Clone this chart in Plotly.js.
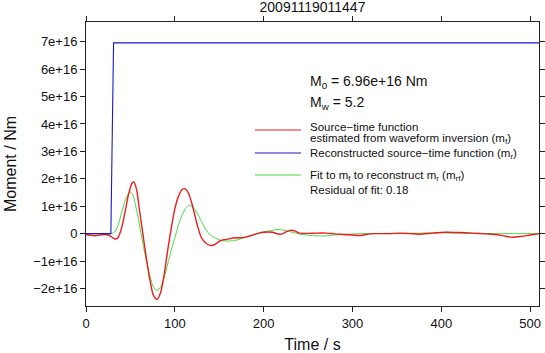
<!DOCTYPE html>
<html>
<head>
<meta charset="utf-8">
<script src="https://cdn.plot.ly/plotly-3.0.1.min.js"></script>
<style>
html,body{margin:0;padding:0;background:#fff;}
#chart{width:545px;height:353px;}
</style>
</head>
<body>
<div id="chart"></div>
<script>
// ---- data (moment in units of 1e16 Nm, time in s) ----
var chartTitle = '20091119011447';
var M0 = 6.96e16;
var Mw = 5.2;
var residual = 0.18;

var redT = [0,5,10,15,20,25,30,33,36,40,44,48,52,54,57,60,64,68,72,76,80,84,88,92,96,100,104,108,111,115,120,125,130,135,140,145,150,155,160,165,170,175,180,185,190,195,200,205,210,215,220,225,230,235,240,250,260,270,280,290,300,308,315,325,340,355,365,375,390,405,420,435,450,460,470,480,490,500,510];
var redV = [-0.03,-0.06,-0.08,-0.06,-0.03,-0.05,-0.15,-0.2,-0.15,0.2,0.8,1.45,1.85,1.88,1.6,0.9,0.0,-0.9,-1.7,-2.25,-2.4,-2.15,-1.5,-0.6,0.2,0.9,1.35,1.6,1.64,1.5,1.0,0.35,-0.15,-0.35,-0.43,-0.4,-0.28,-0.22,-0.2,-0.16,-0.15,-0.15,-0.13,-0.08,-0.03,0.02,0.05,0.06,0.05,0.0,-0.02,0.06,0.12,0.1,0.02,0.01,0.02,0.02,-0.01,-0.03,-0.05,-0.07,-0.03,0.0,0.0,0.02,0.0,-0.02,0.02,0.05,0.04,0.02,-0.01,-0.03,-0.08,-0.13,-0.1,-0.05,0.0];

var blueT = [0,28,31,510];
var blueV = [0,0,6.96,6.96];

var greenT = [0,28,32,36,40,44,48,50,53,56,60,64,68,72,76,80,84,88,92,96,100,104,108,112,116,120,125,130,135,140,145,150,155,160,165,170,175,180,190,200,210,215,220,230,240,250,260,270,280,295,310,350,400,430,460,510];
var greenV = [0,0,0.05,0.3,0.75,1.2,1.48,1.52,1.4,1.0,0.35,-0.35,-1.0,-1.55,-1.95,-2.07,-1.95,-1.6,-1.1,-0.6,-0.15,0.3,0.65,0.92,1.03,0.98,0.75,0.45,0.15,-0.05,-0.15,-0.23,-0.26,-0.27,-0.26,-0.23,-0.18,-0.12,-0.02,0.06,0.12,0.15,0.14,0.07,-0.01,-0.06,-0.08,-0.08,-0.05,-0.02,0.0,0.0,0.03,0.01,0.0,0.0];

var xTicks = [0,100,200,300,400,500];
var yTickVals = [-2,-1,0,1,2,3,4,5,6,7];
var yTickText = ['\u22122e+16','\u22121e+16','0','1e+16','2e+16','3e+16','4e+16','5e+16','6e+16','7e+16'];

var scale = 1e16;
function sc(a){ return a.map(function(v){ return v*scale; }); }

// ---- layout geometry ----
var W = 545, H = 353;
var L = 86, R = 6, T = 22, B = 47;
var pw = W - L - R, ph = H - T - B;
function px(x){ return (x - L) / pw; }
function py(y){ return (H - B - y) / ph; }

var FONT = 'Liberation Sans, Arial, Helvetica, sans-serif';
var RED = '#ee1c1c', BLUE = '#1a1acc', GREEN = '#44dd44';

var traces = [
  {x: greenT, y: sc(greenV), type: 'scatter', mode: 'lines', line: {color: GREEN, width: 1, shape: 'spline', smoothing: 0.8}, hoverinfo: 'skip', showlegend: false},
  {x: redT, y: sc(redV), type: 'scatter', mode: 'lines', line: {color: RED, width: 1.4, shape: 'spline', smoothing: 0.8}, hoverinfo: 'skip', showlegend: false},
  {x: blueT, y: sc(blueV), type: 'scatter', mode: 'lines', line: {color: BLUE, width: 1.1}, hoverinfo: 'skip', showlegend: false}
];

var textColor = '#111';
function ann(text, x, y, size){
  return {text: text, xref: 'paper', yref: 'paper', x: px(x), y: py(y), xanchor: 'left', yanchor: 'middle', showarrow: false, borderpad: 0, font: {family: FONT, size: size, color: textColor}};
}
function seg(x0, x1, y, color){
  return {type: 'line', xref: 'paper', yref: 'paper', x0: px(x0), x1: px(x1), y0: py(y), y1: py(y), line: {color: color, width: 1.2}};
}

var layout = {
  width: W, height: H,
  margin: {l: L, r: R, t: T, b: B},
  paper_bgcolor: '#fff', plot_bgcolor: '#fff',
  font: {family: FONT, color: textColor},
  title: {text: chartTitle, font: {family: FONT, size: 14, color: textColor}, xref: 'paper', x: 0.5, xanchor: 'center', yref: 'container', y: 1 - 7.5/H, yanchor: 'middle'},
  xaxis: {
    range: [0, 510], tickvals: xTicks, ticks: 'outside', ticklen: 5, tickcolor: '#222', tickwidth: 1,
    showline: true, linecolor: '#222', linewidth: 1, mirror: 'ticks', showgrid: false, zeroline: false,
    tickfont: {family: FONT, size: 13, color: textColor},
    title: {text: 'Time / s', font: {family: FONT, size: 16, color: textColor}, standoff: 10}
  },
  yaxis: {
    range: [-2.64e16, 7.72e16], tickvals: sc(yTickVals), ticktext: yTickText, ticks: 'outside', ticklen: 5, tickcolor: '#222', tickwidth: 1,
    showline: true, linecolor: '#222', linewidth: 1, mirror: 'ticks', showgrid: false, zeroline: false,
    tickfont: {family: FONT, size: 13, color: textColor},
    title: {text: 'Moment / Nm', font: {family: FONT, size: 16, color: textColor}, standoff: 12}
  },
  annotations: [
    ann('M<sub>0</sub> = ' + '6.96e+16' + ' Nm', 309, 82, 14),
    ann('M<sub>w</sub> = ' + Mw.toFixed(1), 309, 103, 14),
    ann('Source\u2212time function', 309, 126.5, 11.5),
    ann('estimated from waveform inversion (m<sub>f</sub>)', 309, 139, 11.5),
    ann('Reconstructed source\u2212time function (m<sub>r</sub>)', 309, 153.5, 11.5),
    ann('Fit to m<sub>f</sub> to reconstruct m<sub>r</sub> (m<sub>rf</sub>)', 309, 176, 11.5),
    ann('Residual of fit: ' + residual.toFixed(2), 309, 190.5, 11.5)
  ],
  shapes: [
    seg(255, 301, 130, RED),
    seg(255, 301, 153, BLUE),
    seg(255, 301, 175, GREEN)
  ]
};

Plotly.newPlot('chart', traces, layout, {staticPlot: true, displayModeBar: false});
</script>
</body>
</html>
